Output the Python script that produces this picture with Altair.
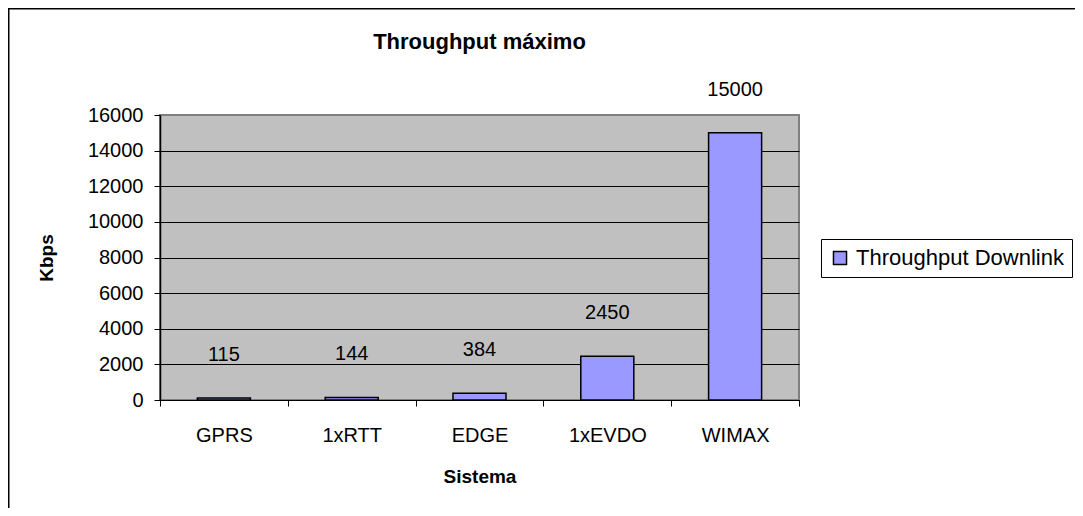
import altair as alt
import pandas as pd

sistemas = ["GPRS", "1xRTT", "EDGE", "1xEVDO", "WIMAX"]
throughput = [115, 144, 384, 2450, 15000]
serie = "Throughput Downlink"
y_ticks = [0, 2000, 4000, 6000, 8000, 10000, 12000, 14000, 16000]

df = pd.DataFrame({"Sistema": sistemas, "Kbps": throughput, "Serie": [serie] * len(sistemas)})

FONT = "Liberation Sans"
FS = 20
W, H = 639, 285
PL, PT = 152, 107
PR = 1067 - PL - W
PB = 500 - PT - H

base = alt.Chart(df)

x_enc = alt.X(
    "Sistema:N",
    sort=sistemas,
    scale=alt.Scale(paddingInner=0, paddingOuter=0),
    axis=alt.Axis(
        title="Sistema",
        tickBand="extent",
        labelAngle=0,
        labelFont=FONT,
        labelFontSize=FS,
        labelColor="black",
        labelPadding=19,
        tickColor="black",
        tickSize=6,
        domainColor="black",
        domainWidth=1,
        titleFont=FONT,
        titleFontSize=19,
        titleFontWeight="bold",
        titleColor="black",
        titlePadding=22,
        grid=False,
    ),
)

y_enc = alt.Y(
    "Kbps:Q",
    scale=alt.Scale(domain=[0, 16000], nice=False),
    axis=alt.Axis(
        title="Kbps",
        values=y_ticks,
        tickCount=20,
        labelOverlap=False,
        format="d",
        labelFont=FONT,
        labelFontSize=FS,
        labelColor="black",
        labelPadding=11,
        tickColor="black",
        tickSize=6,
        domainColor="black",
        domainWidth=1.5,
        grid=True,
        gridColor=alt.condition("datum.value == 16000", alt.value("#808080"), alt.value("black")),
        gridWidth=1,
        gridOpacity=1,
        titleFont=FONT,
        titleFontSize=19,
        titleFontWeight="bold",
        titleColor="black",
        titlePadding=31,
    ),
)

bars = base.mark_bar(
    width=alt.RelativeBandSize(0.415), stroke="black", strokeWidth=1.5
).encode(
    x=x_enc,
    y=y_enc,
    color=alt.Color(
        "Serie:N",
        scale=alt.Scale(range=["#9999FF"]),
        legend=alt.Legend(
            title=None,
            orient="none",
            legendX=661,
            legendY=124,
            symbolType="square",
            symbolSize=170,
            symbolStrokeColor="black",
            symbolStrokeWidth=1.5,
            symbolOpacity=1,
            labelFont=FONT,
            labelFontSize=22,
            labelColor="black",
            labelLimit=600,
            labelOffset=5,
            strokeColor="black",
            padding=8,
            fillColor="white",
        ),
    ),
)

labels = base.mark_text(
    dy=-43, fontSize=FS, font=FONT, color="black", baseline="middle"
).encode(
    x=alt.X("Sistema:N", sort=sistemas),
    y=alt.Y("Kbps:Q"),
    text=alt.Text("Kbps:Q", format="d"),
)

frame = alt.Chart(alt.Data(values=[{}])).mark_rect(
    fill=None, stroke="black", strokeWidth=1.5
).encode(
    x=alt.value(-PL + 0.75),
    x2=alt.value(W + PR + 20),
    y=alt.value(-PT + 0.75),
    y2=alt.value(H + PB + 20),
)

chart = alt.layer(frame, bars, labels).properties(
    width=W,
    height=H,
    padding={"left": PL, "top": PT, "right": PR, "bottom": PB},
    autosize=alt.AutoSizeParams(type="none"),
    title=alt.TitleParams(
        "Throughput máximo",
        font=FONT,
        fontSize=22,
        fontWeight="bold",
        color="black",
        anchor="middle",
        frame="group",
        offset=-46,
    ),
).configure(background="white").configure_view(
    fill="#C0C0C0", stroke="#808080", strokeWidth=2
)

chart.save("out.html", embed_options={"renderer": "svg", "actions": False})
